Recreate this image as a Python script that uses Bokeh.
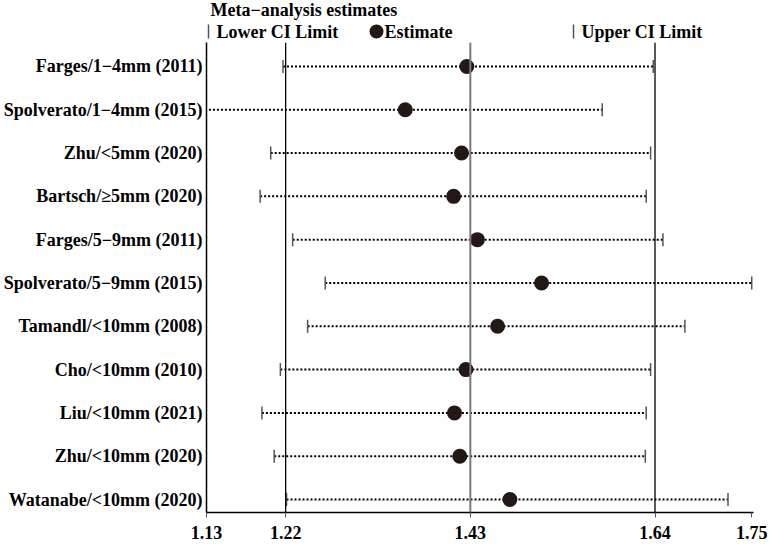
from bokeh.plotting import figure
from bokeh.models import Range1d, FixedTicker, Span, ColumnDataSource
from bokeh.layouts import column
from bokeh.core.properties import value
from bokeh.embed import file_html
from bokeh.resources import INLINE
import math

# ---- data ----
studies = [
    "Farges/1\u22124mm (2011)",
    "Spolverato/1\u22124mm (2015)",
    "Zhu/<5mm (2020)",
    "Bartsch/\u22655mm (2020)",
    "Farges/5\u22129mm (2011)",
    "Spolverato/5\u22129mm (2015)",
    "Tamandl/<10mm (2008)",
    "Cho/<10mm (2010)",
    "Liu/<10mm (2021)",
    "Zhu/<10mm (2020)",
    "Watanabe/<10mm (2020)",
]
lower = [1.217, 1.110, 1.203, 1.191, 1.228, 1.265, 1.245, 1.214, 1.193, 1.207, 1.221]
estimate = [1.426, 1.356, 1.420, 1.411, 1.438, 1.511, 1.461, 1.425, 1.412, 1.418, 1.475]
upper = [1.638, 1.580, 1.635, 1.630, 1.649, 1.750, 1.674, 1.635, 1.630, 1.629, 1.723]

pooled_lower = 1.22
pooled_estimate = 1.43
pooled_upper = 1.64
x_ticks = [1.13, 1.22, 1.43, 1.64, 1.75]
x_tick_labels = ["1.13", "1.22", "1.43", "1.64", "1.75"]

legend_title = "Meta\u2212analysis estimates"
legend_labels = ["Lower CI Limit", "Estimate", "Upper CI Limit"]

n = len(studies)
ypos = [n - i for i in range(n)]

FONT = "Liberation Serif"
X0, X1 = 1.13, 1.752
Y0, Y1 = 0.70, 11.553
LEFT, RIGHT = 206, 19
W = 772
LEG_H = 42
MAIN_H = 500

x_range = Range1d(X0, X1)

# ---------------- main plot ----------------
p = figure(width=W, height=MAIN_H, output_backend="svg", toolbar_location=None,
           x_range=x_range, y_range=Range1d(Y0, Y1),
           min_border_top=0, min_border_right=RIGHT, min_border_left=LEFT,
           min_border_bottom=30)
p.outline_line_color = None
p.xgrid.visible = False
p.ygrid.visible = False

src = ColumnDataSource(dict(y=ypos, lo=lower, est=estimate, hi=upper))

for v, col, w in [(pooled_lower, "black", 1.3), (pooled_estimate, "#7a7a7a", 2),
                  (pooled_upper, "black", 1.3)]:
    p.add_layout(Span(location=v, dimension="height", line_color=col, line_width=w))

p.segment(x0="lo", y0="y", x1="hi", y1="y", source=src, line_color="black",
          line_width=2, line_dash="2 2")
p.scatter(x="lo", y="y", source=src, marker="dash", angle=math.pi / 2, size=13,
          line_color="#555555", line_width=1.5)
p.scatter(x="hi", y="y", source=src, marker="dash", angle=math.pi / 2, size=13,
          line_color="#555555", line_width=1.5)
p.scatter(x="est", y="y", source=src, marker="circle", size=15,
          fill_color="#231815", line_color=None)

xa = p.xaxis[0]
xa.ticker = FixedTicker(ticks=x_ticks)
xa.major_label_overrides = {t: l for t, l in zip(x_ticks, x_tick_labels)}
xa.minor_tick_line_color = None
xa.major_tick_out = 5
xa.major_tick_in = 0
xa.major_tick_line_color = "#555555"
xa.axis_line_color = "black"
xa.axis_line_width = 1.5
xa.major_label_standoff = 8
xa.major_label_text_font = FONT
xa.major_label_text_font_style = "bold"
xa.major_label_text_font_size = "18px"
xa.major_label_text_color = "black"

ya = p.yaxis[0]
ya.ticker = FixedTicker(ticks=ypos)
ya.major_label_overrides = {y: s for y, s in zip(ypos, studies)}
ya.minor_tick_line_color = None
ya.major_tick_line_color = None
ya.major_tick_out = 0
ya.major_tick_in = 0
ya.axis_line_color = "black"
ya.axis_line_width = 1.5
ya.major_label_standoff = 4
ya.major_label_text_font = FONT
ya.major_label_text_font_style = "bold"
ya.major_label_text_font_size = "18px"
ya.major_label_text_color = "black"

# ---------------- legend strip (shares the x scale) ----------------
leg = figure(width=W, height=LEG_H, output_backend="svg", toolbar_location=None,
             x_range=x_range, y_range=Range1d(0, LEG_H),
             min_border_top=0, min_border_bottom=0,
             min_border_left=LEFT, min_border_right=RIGHT,
             x_axis_location=None, y_axis_location=None)
leg.outline_line_color = None
leg.xgrid.visible = False
leg.ygrid.visible = False

frame_w = W - LEFT - RIGHT
def dx(px):
    return X0 + px * (X1 - X0) / frame_w

row1, row2 = 33, 11
leg.text(x=[dx(4)], y=[row1], text=[legend_title], text_font=value(FONT),
         text_font_style="bold", text_font_size="18px", text_color="black",
         text_baseline="middle", text_align="left")
leg.text(x=[dx(10), dx(178), dx(375)], y=[row2, row2, row2], text=legend_labels,
         text_font=value(FONT), text_font_style="bold", text_font_size="18px",
         text_color="black", text_baseline="middle", text_align="left")
leg.scatter(x=[dx(2), dx(367)], y=[row2, row2], marker="dash", angle=math.pi / 2,
            size=14, line_color="#555555", line_width=1.5)
leg.scatter(x=[dx(170)], y=[row2], marker="circle", size=14,
            fill_color="#231815", line_color=None)

layout = column(leg, p, spacing=0)
open("out.html", "w").write(file_html(layout, INLINE))
